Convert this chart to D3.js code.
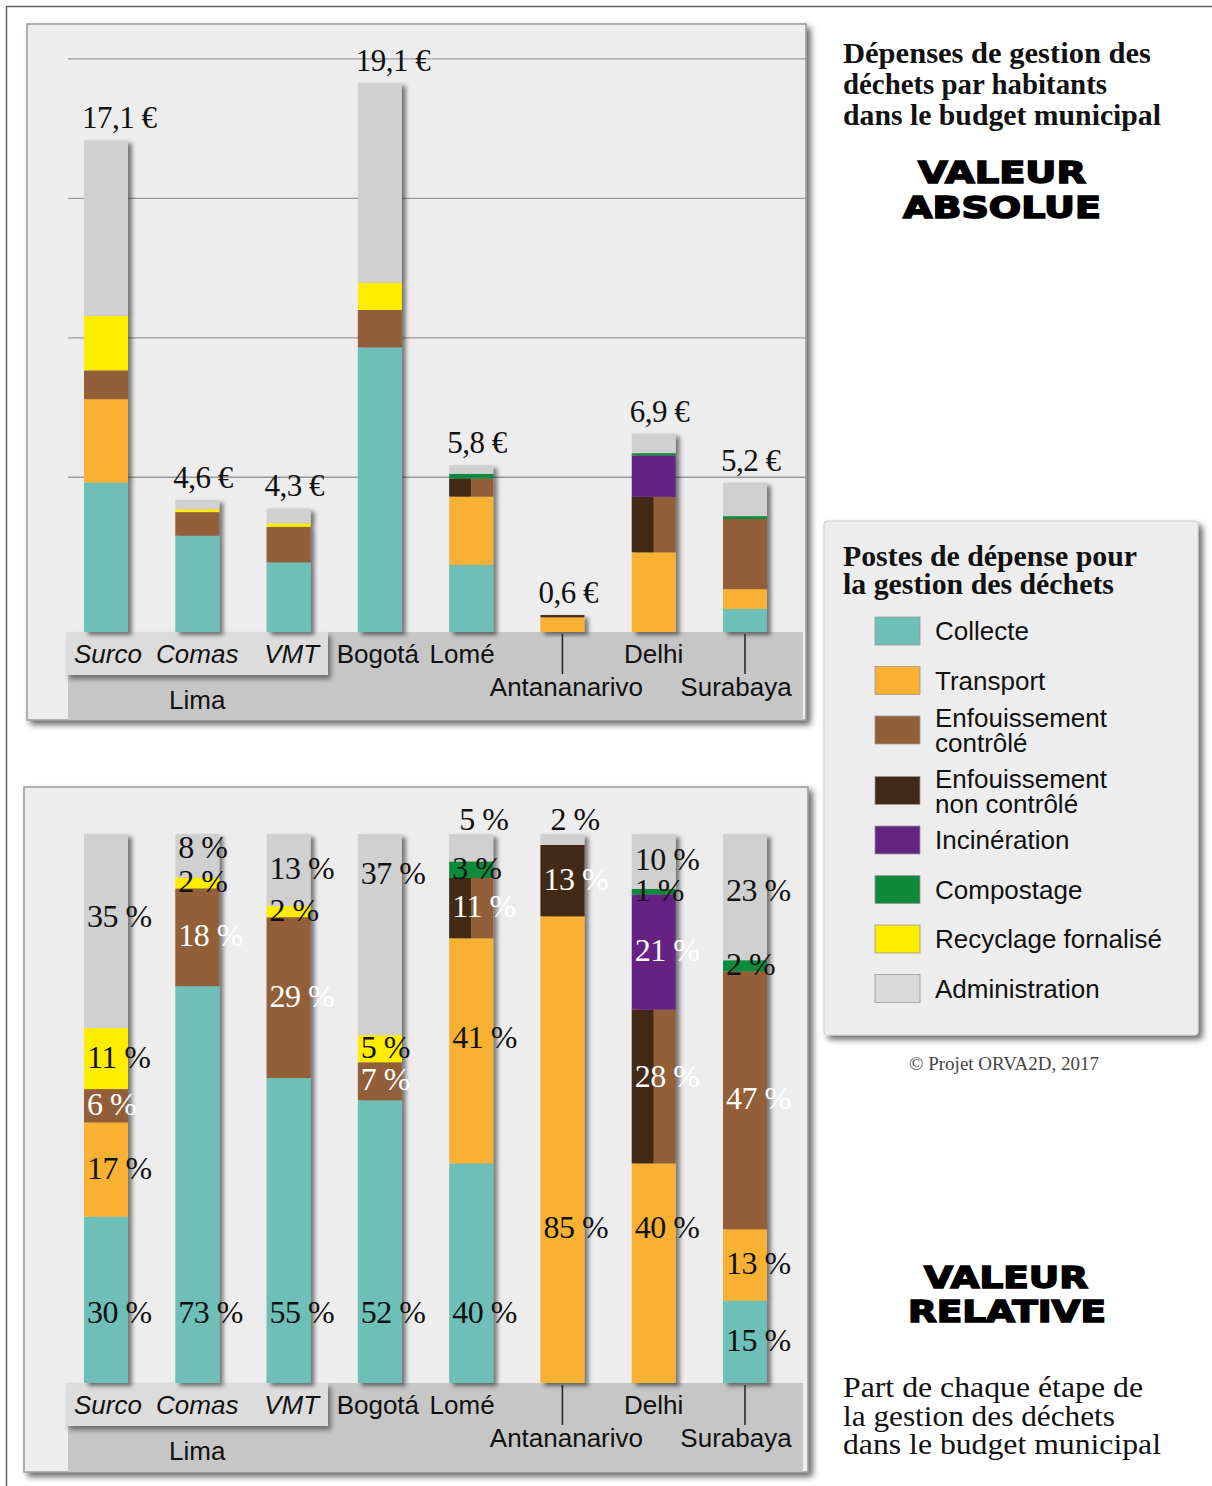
<!DOCTYPE html>
<html>
<head>
<meta charset="utf-8">
<script src="https://cdnjs.cloudflare.com/ajax/libs/d3/7.8.5/d3.min.js"></script>
<style>
  body { margin: 0; background: #fff; }
  svg text { font-family: "Liberation Sans", Arial, sans-serif; }
  .serif { font-family: "Liberation Serif", "Times New Roman", serif; }
  .heavy { font-family: "DejaVu Sans", sans-serif; font-weight: bold; }
</style>
</head>
<body>
<svg id="chart" width="1212" height="1486"></svg>
<script>
// ---- data ----
const sites = ["Surco", "Comas", "VMT", "Bogotá", "Lomé", "Antananarivo", "Delhi", "Surabaya"];
const limaSites = ["Surco", "Comas", "VMT"];
const totalLabels = ["17,1 €", "4,6 €", "4,3 €", "19,1 €", "5,8 €", "0,6 €", "6,9 €", "5,2 €"];

const keys = ["collecte", "transport", "enfCtrl", "enfNon", "enfMixte", "incineration", "compostage", "recyclage", "administration"];

// absolute values, € per inhabitant (top chart)
const absCollecte       = [5.2, 3.35, 2.42, 9.9, 2.33, 0, 0, 0.8];
const absTransport      = [2.9, 0, 0, 0, 2.38, 0.51, 2.77, 0.69];
const absEnfCtrl        = [1.0, 0.82, 1.24, 1.3, 0, 0, 0, 2.44];
const absEnfNon         = [0, 0, 0, 0, 0, 0.08, 0, 0];
const absEnfMixte       = [0, 0, 0, 0, 0.63, 0, 1.93, 0];
const absIncineration   = [0, 0, 0, 0, 0, 0, 1.44, 0];
const absCompostage     = [0, 0, 0, 0, 0.16, 0, 0.08, 0.1];
const absRecyclage      = [1.9, 0.1, 0.12, 0.95, 0, 0, 0, 0];
const absAdministration = [6.1, 0.33, 0.52, 6.95, 0.3, 0.01, 0.68, 1.17];

// shares, % (bottom chart)
const pctCollecte       = [30, 73, 55, 52, 40, 0, 0, 15];
const pctTransport      = [17, 0, 0, 0, 41, 85, 40, 13];
const pctEnfCtrl        = [6, 18, 29, 7, 0, 0, 0, 47];
const pctEnfNon         = [0, 0, 0, 0, 0, 13, 0, 0];
const pctEnfMixte       = [0, 0, 0, 0, 11, 0, 28, 0];
const pctIncineration   = [0, 0, 0, 0, 0, 0, 21, 0];
const pctCompostage     = [0, 0, 0, 0, 3, 0, 1, 2];
const pctRecyclage      = [11, 2, 2, 5, 0, 0, 0, 0];
const pctAdministration = [35, 8, 13, 37, 5, 2, 10, 23];

const legendNames = ["Collecte", "Transport", "Enfouissement\ncontrôlé", "Enfouissement\nnon contrôlé",
                     "Incinération", "Compostage", "Recyclage fornalisé", "Administration"];
const legendKeys = ["collecte", "transport", "enfCtrl", "enfNon", "incineration", "compostage", "recyclage", "administration"];
const gridValues = [5.4, 10.25, 15.1, 19.95];

const colors = {
  collecte: "#6dbfb8", transport: "#f8b133", enfCtrl: "#925f37", enfNon: "#432918",
  incineration: "#662482", compostage: "#0f8a3a", recyclage: "#ffed00", administration: "#d0d0d0"
};
const whiteText = ["enfCtrl", "enfNon", "enfMixte", "incineration"];

function rows(arrs) {
  return sites.map((s, i) => {
    const r = { site: s };
    keys.forEach((k, j) => r[k] = arrs[j][i]);
    return r;
  });
}
const absRows = rows([absCollecte, absTransport, absEnfCtrl, absEnfNon, absEnfMixte, absIncineration, absCompostage, absRecyclage, absAdministration]);
const pctRows = rows([pctCollecte, pctTransport, pctEnfCtrl, pctEnfNon, pctEnfMixte, pctIncineration, pctCompostage, pctRecyclage, pctAdministration]);

const svg = d3.select("#chart");
const defs = svg.append("defs");
function shadow(id, dx, dy, sd, op) {
  defs.append("filter").attr("id", id).attr("x", "-20%").attr("y", "-20%").attr("width", "150%").attr("height", "150%")
    .append("feDropShadow").attr("dx", dx).attr("dy", dy).attr("stdDeviation", sd)
    .attr("flood-color", "#000").attr("flood-opacity", op);
}
shadow("panelShadow", 4, 4, 3, 0.6);
shadow("barShadow", 4, 3, 2, 0.5);
shadow("bandShadow", 3, 4, 2.5, 0.45);

// outer frame
svg.append("path").attr("d", "M6.5,1486V6.5H1212").attr("fill", "none").attr("stroke", "#666").attr("stroke-width", 1.5);

const x = d3.scalePoint().domain(sites).range([106, 745]);
const barW = 44;

function drawPanel(p) {
  const g = svg.append("g");
  g.append("rect").attr("x", p.x).attr("y", p.y).attr("width", p.w).attr("height", p.h)
    .attr("fill", "#ededed").attr("stroke", "#999").attr("stroke-width", 1.5).attr("filter", "url(#panelShadow)");

  if (p.grid) {
    const grid = d3.axisRight(p.yScale).tickValues(gridValues).tickSize(p.x + p.w - 68).tickFormat("");
    const gg = g.append("g").attr("transform", "translate(68,0)").call(grid);
    gg.select(".domain").remove();
    gg.selectAll("line").attr("stroke", "#9a9a9a").attr("stroke-width", 1.3);
  }

  // category bands
  const B = p.base;
  g.append("rect").attr("x", 68).attr("y", B).attr("width", 735).attr("height", p.y + p.h - B)
    .attr("fill", "#c6c6c6");
  g.append("rect").attr("x", 66).attr("y", B).attr("width", 262).attr("height", 43)
    .attr("fill", "#dcdcdc").attr("filter", "url(#bandShadow)");

  // stacked bars
  const stack = d3.stack().keys(keys);
  if (p.expand) stack.offset(d3.stackOffsetExpand);
  const series = stack(p.rows);
  const bars = g.append("g");
  sites.forEach((s, i) => {
    const bg = bars.append("g").attr("filter", "url(#barShadow)");
    series.forEach(ser => {
      const d = ser[i];
      if (d[1] - d[0] <= 0) return;
      const y0 = p.yScale(d[0]), y1 = p.yScale(d[1]);
      const x0 = x(s) - barW / 2;
      if (ser.key === "enfMixte") {
        bg.append("rect").attr("x", x0).attr("y", y1).attr("width", barW / 2).attr("height", y0 - y1).attr("fill", colors.enfNon);
        bg.append("rect").attr("x", x0 + barW / 2).attr("y", y1).attr("width", barW / 2).attr("height", y0 - y1).attr("fill", colors.enfCtrl);
      } else {
        bg.append("rect").attr("x", x0).attr("y", y1).attr("width", barW).attr("height", y0 - y1).attr("fill", colors[ser.key]);
      }
    });
  });

  // axis labels
  const ax = g.append("g").attr("font-size", 26).attr("fill", "#111").attr("text-anchor", "middle");
  const row1 = ["Surco", "Comas", "VMT", "Bogotá", "Lomé", "Delhi"];
  const nudge = { "Surco": 2, "VMT": 3, "Bogotá": -2, "Lomé": -9, "Antananarivo": 4, "Surabaya": -9 };
  row1.forEach(s => {
    ax.append("text").attr("x", x(s) + (nudge[s] || 0)).attr("y", B + 31)
      .attr("font-style", limaSites.includes(s) ? "italic" : "normal").text(s);
  });
  ["Antananarivo", "Surabaya"].forEach(s => {
    ax.append("line").attr("x1", x(s)).attr("x2", x(s)).attr("y1", B + 2).attr("y2", B + 42)
      .attr("stroke", "#222").attr("stroke-width", 1.5);
    ax.append("text").attr("x", x(s) + nudge[s]).attr("y", B + 64).text(s);
  });
  ax.append("text").attr("x", x("Comas")).attr("y", B + 77).text("Lima");
  return { g, series };
}

// ---- top panel : absolute values ----
const yAbs = d3.scaleLinear().domain([0, 20]).range([632, 57]);
const topPanel = drawPanel({ x: 27, y: 24, w: 779, h: 696, base: 632, yScale: yAbs, rows: absRows, grid: true });
const totals = absRows.map(r => d3.sum(keys, k => r[k]));
topPanel.g.append("g").selectAll("text").data(sites).join("text")
  .attr("class", "serif")
  .attr("x", s => x(s) - barW / 2 - 2)
  .attr("y", (s, i) => yAbs(totals[i]) - 12)
  .attr("font-size", 31).attr("letter-spacing", -0.5).attr("fill", "#111")
  .text((s, i) => totalLabels[i]);

// ---- bottom panel : shares ----
const yRel = d3.scaleLinear().domain([0, 1]).range([1383, 834]);
const botPanel = drawPanel({ x: 24, y: 787, w: 784, h: 685, base: 1383, yScale: yRel, rows: pctRows, expand: true });

const labelNudge = { "Surco|administration": -13, "Comas|administration": -7, "Bogotá|administration": -60,
                     "Lomé|transport": -12, "Delhi|enfMixte": -9, "Surabaya|administration": -5 };
const lab = botPanel.g.append("g");
sites.forEach((s, i) => {
  botPanel.series.forEach(ser => {
    const d = ser[i];
    const v = pctRows[i][ser.key];
    if (!v) return;
    const yb = yRel(d[0]), yt = yRel(d[1]);
    const c = (yb + yt) / 2;
    let ty = c + 9 + (labelNudge[s + "|" + ser.key] || 0);
    let tx = x(s) - barW / 2 + 3;
    let fill = whiteText.includes(ser.key) ? "#fff" : "#111";
    if (ser.key === "collecte") ty = Math.max(c + 9, yb - 60);
    if (ser.key === "transport" && d[0] === 0) ty = yb - 145;
    if (ser.key === "administration" && yb - yt < 30) { ty = yt - 4; tx += 7; fill = "#111"; }
    lab.append("text").attr("class", "serif").attr("x", tx).attr("y", ty)
      .attr("font-size", 32).attr("letter-spacing", -0.5).attr("fill", fill).text(v + " %");
  });
});

// ---- right column ----
const side = svg.append("g");
function lines(list, x0, y0, dy, size, weight, widths) {
  list.forEach((t, i) => {
    side.append("text").attr("class", "serif").attr("x", x0).attr("y", y0 + i * dy)
      .attr("font-size", size).attr("font-weight", weight).attr("fill", "#111")
      .attr("textLength", widths[i]).attr("lengthAdjust", "spacingAndGlyphs").text(t);
  });
}
lines(["Dépenses de gestion des", "déchets par habitants", "dans le budget municipal"], 843, 63, 31, 30, "bold", [308, 264, 318]);
lines(["Part de chaque étape de", "la gestion des déchets", "dans le budget municipal"], 843, 1397, 28.5, 30, "normal", [300, 272, 318]);

function heavy(t, cx, y, w) {
  side.append("text").attr("class", "heavy").attr("x", cx).attr("y", y).attr("text-anchor", "middle")
    .attr("font-size", 31).attr("stroke", "#000").attr("stroke-width", 1.6).attr("fill", "#000")
    .attr("textLength", w).attr("lengthAdjust", "spacingAndGlyphs").text(t);
}
heavy("VALEUR", 1002, 183, 168);
heavy("ABSOLUE", 1002, 218, 198);
heavy("VALEUR", 1006, 1288, 164);
heavy("RELATIVE", 1007, 1322, 198);

// legend
const lg = svg.append("g");
lg.append("rect").attr("x", 824).attr("y", 521).attr("width", 374).attr("height", 514).attr("rx", 3)
  .attr("fill", "#ededed").attr("stroke", "#d0d0d0").attr("filter", "url(#panelShadow)");
["Postes de dépense pour", "la gestion des déchets"].forEach((t, i) => {
  lg.append("text").attr("class", "serif").attr("x", 843).attr("y", 566 + i * 28)
    .attr("font-size", 29).attr("font-weight", "bold").attr("fill", "#111")
    .attr("textLength", [294, 271][i]).attr("lengthAdjust", "spacingAndGlyphs").text(t);
});
legendKeys.forEach((k, i) => {
  const cy = 631 + 49.5 * i + (i >= 3 ? 11 : 0);
  lg.append("rect").attr("x", 875).attr("y", cy - 14).attr("width", 45).attr("height", 28)
    .attr("fill", k === "administration" ? "#d9d9d9" : colors[k]).attr("stroke", "#999").attr("stroke-width", 0.8);
  const parts = legendNames[i].split("\n");
  parts.forEach((p, j) => {
    const y = parts.length === 1 ? cy + 9 : cy - 3 + j * 25;
    lg.append("text").attr("x", 935).attr("y", y).attr("font-size", 26).attr("fill", "#111").text(p);
  });
});
svg.append("text").attr("class", "serif").attr("x", 1004).attr("y", 1070).attr("text-anchor", "middle")
  .attr("font-size", 19).attr("fill", "#444").text("© Projet ORVA2D, 2017");
</script>
</body>
</html>
